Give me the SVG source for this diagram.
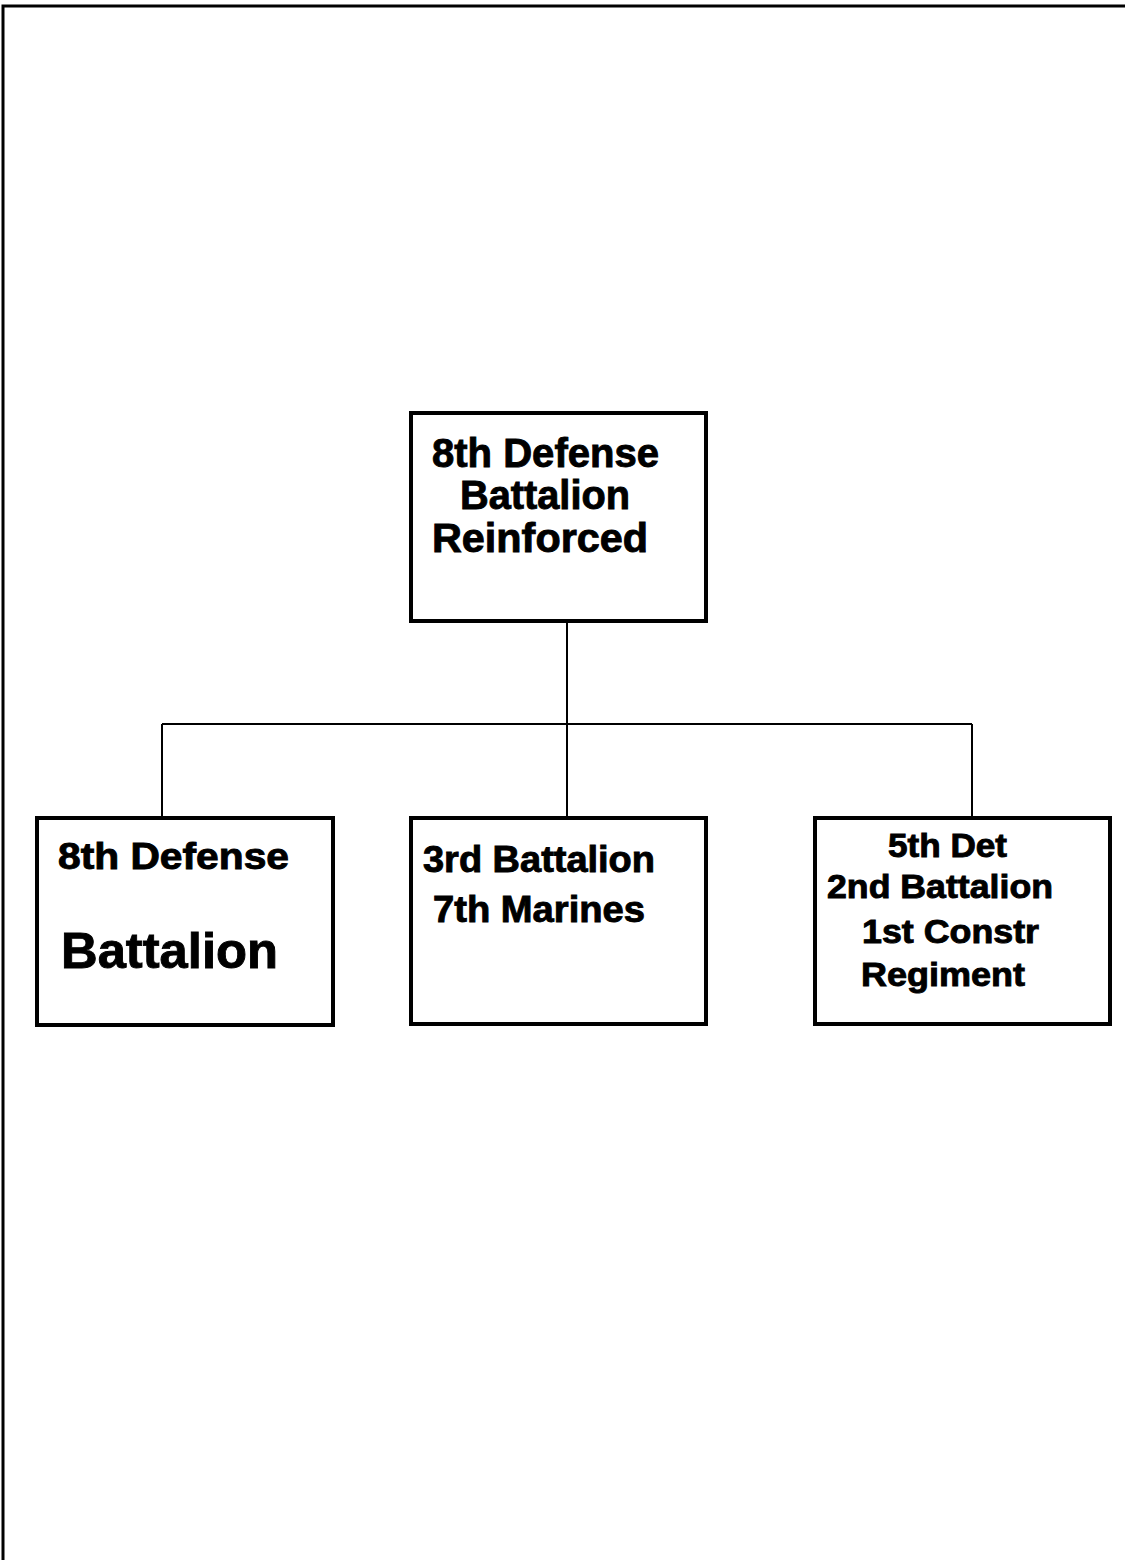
<svg xmlns="http://www.w3.org/2000/svg" width="1125" height="1560" viewBox="0 0 1125 1560">
  <style>
    .box { fill: #fff; stroke: #000; stroke-width: 4; }
    .link { fill: none; stroke: #000; stroke-width: 2; }
    .frame { fill: none; stroke: #000; stroke-width: 3; }
    text { font-family: "Liberation Sans", Arial, sans-serif; font-weight: bold; fill: #000; stroke: #000; stroke-width: 0.9; }
  </style>
  <rect width="1125" height="1560" fill="#fff"/>

  <!-- page frame (top and left edges) -->
  <path class="frame" d="M3,1560 V6 H1125"/>

  <g id="connectors">
    <path class="link" d="M567,622 V724"/>
    <path class="link" d="M162,724 H972"/>
    <path class="link" d="M162,724 V817"/>
    <path class="link" d="M567,724 V817"/>
    <path class="link" d="M972,724 V817"/>
  </g>

  <g id="node-hq">
    <rect class="box" x="411" y="413" width="295" height="208"/>
    <text x="432" y="467" font-size="40" textLength="227" lengthAdjust="spacingAndGlyphs">8th Defense</text>
    <text x="460" y="509" font-size="40" textLength="170" lengthAdjust="spacingAndGlyphs">Battalion</text>
    <text x="432" y="552" font-size="40" textLength="216" lengthAdjust="spacingAndGlyphs">Reinforced</text>
  </g>

  <g id="node-8th-defense">
    <rect class="box" x="37" y="818" width="296" height="207"/>
    <text x="58" y="869" font-size="36" textLength="231" lengthAdjust="spacingAndGlyphs">8th Defense</text>
    <text x="61" y="968" font-size="50" textLength="217" lengthAdjust="spacingAndGlyphs">Battalion</text>
  </g>

  <g id="node-3-7-marines">
    <rect class="box" x="411" y="818" width="295" height="206"/>
    <text x="423" y="872" font-size="36" textLength="232" lengthAdjust="spacingAndGlyphs">3rd Battalion</text>
    <text x="433" y="922" font-size="36" textLength="212" lengthAdjust="spacingAndGlyphs">7th Marines</text>
  </g>

  <g id="node-5th-det">
    <rect class="box" x="815" y="818" width="295" height="206"/>
    <text x="888" y="857" font-size="33" textLength="119" lengthAdjust="spacingAndGlyphs">5th Det</text>
    <text x="827" y="898" font-size="33" textLength="226" lengthAdjust="spacingAndGlyphs">2nd Battalion</text>
    <text x="862" y="943" font-size="33" textLength="177" lengthAdjust="spacingAndGlyphs">1st Constr</text>
    <text x="861" y="986" font-size="33" textLength="164" lengthAdjust="spacingAndGlyphs">Regiment</text>
  </g>
</svg>
